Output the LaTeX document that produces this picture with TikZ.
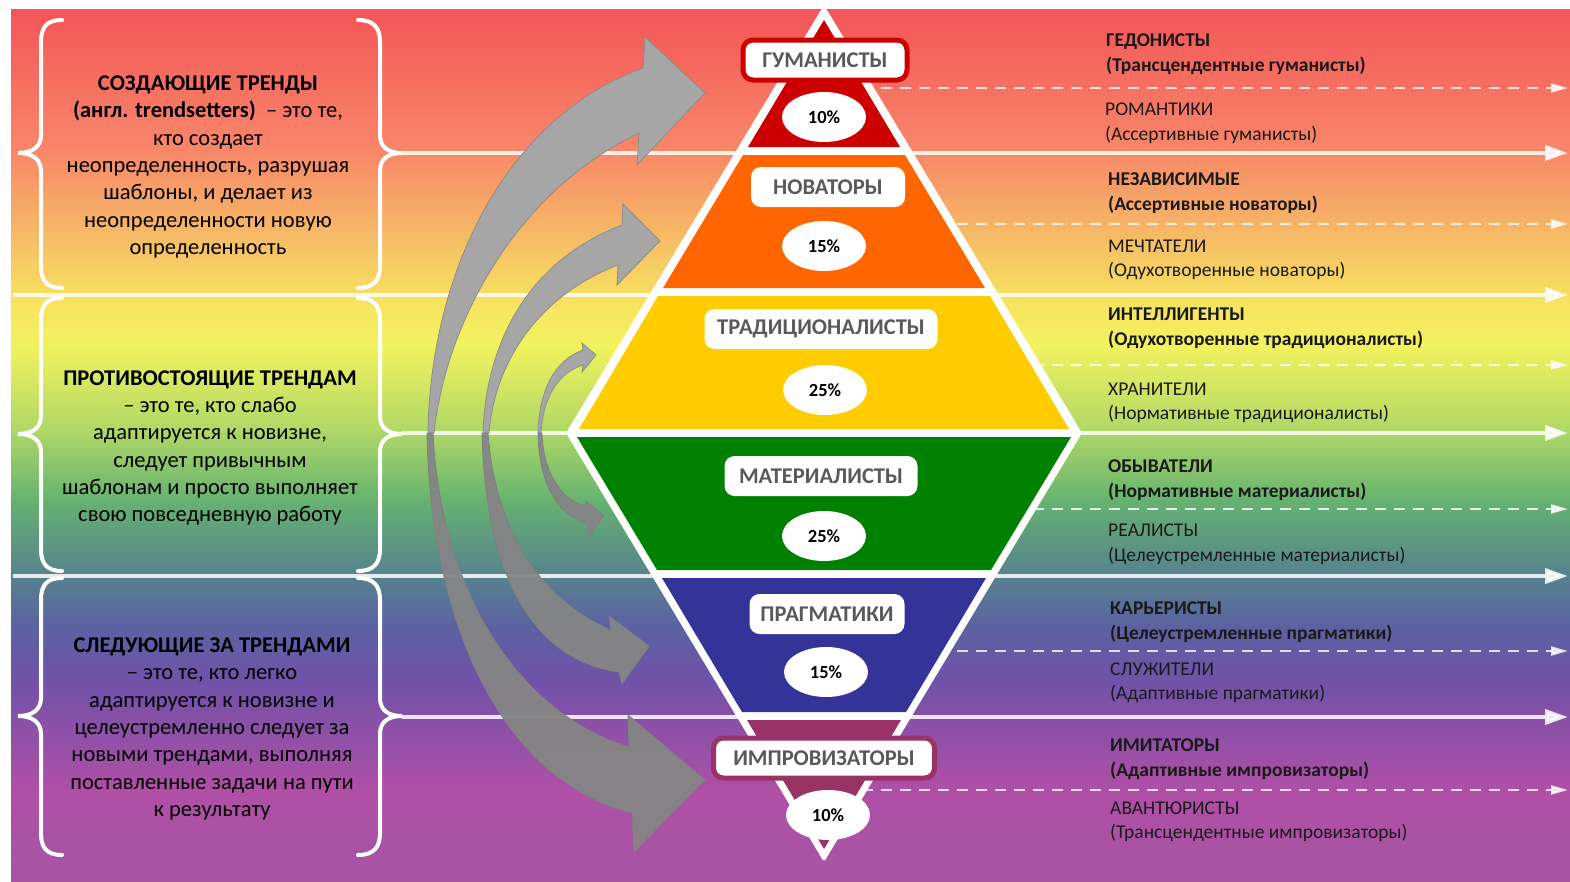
\documentclass[tikz,border=0pt]{standalone}
\usepackage{fontspec}
\setmainfont{Carlito}
\usetikzlibrary{shapes.geometric,arrows.meta}

\begin{document}
\begin{tikzpicture}[x=1pt,y=-1pt,
  lefttext/.style={align=center,text=black,inner sep=0pt,font=\fontsize{22.5}{27.3}\selectfont},
  righttext/.style={anchor=west,align=left,inner sep=0pt,text=black!90,font=\fontsize{19.5}{24.5}\selectfont},
  rightbold/.style={righttext,font=\fontsize{19.5}{24.5}\selectfont\bfseries},
  tier/.style={fill=white,rounded corners=10pt,minimum height=40pt,inner xsep=6pt,text=black!65,font=\fontsize{22.5}{26}\selectfont\bfseries},
  share/.style={ellipse,fill=white,minimum width=84pt,minimum height=50pt,inner sep=0pt,font=\fontsize{18.5}{22}\selectfont\bfseries},
  curly/.style={draw=white,line width=4pt,line cap=round},
  bandline/.style={draw=white,opacity=0.85,line width=4pt,-{Triangle[length=23pt,width=15pt]}},
  subline/.style={draw=white,opacity=0.8,line width=2.5pt,dash pattern=on 11pt off 8pt,-{Triangle[length=17pt,width=9pt]}},
  uparrow/.style={fill=black!35,draw=black!45,line width=0.8pt},
  downarrow/.style={fill=black!48,draw=black!50,line width=0.8pt,fill opacity=0.95}]
% Define colours
\definecolor{tierred}{HTML}{CC0000}
\definecolor{tierorange}{HTML}{FF6600}
\definecolor{tieryellow}{HTML}{FFCC00}
\definecolor{tiergreen}{HTML}{008000}
\definecolor{tierblue}{HTML}{333399}
\definecolor{tiermag}{HTML}{993366}
\definecolor{bgA}{HTML}{F35558}
\definecolor{bgB}{HTML}{F88769}
\definecolor{bgC}{HTML}{F6BE66}
\definecolor{bgD}{HTML}{F7E260}
\definecolor{bgE}{HTML}{F2F35E}
\definecolor{bgF}{HTML}{AFD866}
\definecolor{bgG}{HTML}{66B270}
\definecolor{bgH}{HTML}{57858C}
\definecolor{bgI}{HTML}{5B62A2}
\definecolor{bgJ}{HTML}{7052A8}
\definecolor{bgK}{HTML}{B04FA6}
\definecolor{bgL}{HTML}{A654A2}

\useasboundingbox[fill=white] (0,0) rectangle (1570,881);

% Rainbow background
\shade[top color=bgA,bottom color=bgB] (11,9) rectangle (1570,151);
\shade[top color=bgB,bottom color=bgC] (11,150) rectangle (1570,241);
\shade[top color=bgC,bottom color=bgD] (11,240) rectangle (1570,301);
\shade[top color=bgD,bottom color=bgE] (11,300) rectangle (1570,346);
\shade[top color=bgE,bottom color=bgF] (11,345) rectangle (1570,431);
\shade[top color=bgF,bottom color=bgG] (11,430) rectangle (1570,501);
\shade[top color=bgG,bottom color=bgH] (11,500) rectangle (1570,571);
\shade[top color=bgH,bottom color=bgI] (11,570) rectangle (1570,626);
\shade[top color=bgI,bottom color=bgJ] (11,625) rectangle (1570,681);
\shade[top color=bgJ,bottom color=bgK] (11,680) rectangle (1570,791);
\shade[top color=bgK,bottom color=bgL] (11,790) rectangle (1570,881);

% Level lines
\foreach \y/\x in {153/402,295/13,433/402,576/13,717/402}{
  \coordinate (l\y) at (\x,\y);
  \coordinate (r\y) at (1568,\y);
  \draw[bandline] (l\y) -- (r\y);
}
\foreach \y in {88,224,365,509,651,790}{
  \coordinate (m\y) at (824,\y);
  \coordinate (s\y) at (1568,\y);
  \draw[subline] (m\y) -- (s\y);
}

% Braces
\foreach \a/\b/\c in {20/153/288,298/434/571,578/716/855}{
  \draw[curly] (62,\a) .. controls (46,\a) and (41,\a+8) .. (41,\a+22) -- (41,\b-18)
    .. controls (41,\b-6) and (32,\b) .. (18,\b) .. controls (32,\b) and (41,\b+6) .. (41,\b+18)
    -- (41,\c-22) .. controls (41,\c-8) and (46,\c) .. (62,\c);
  \draw[curly] (358,\a) .. controls (374,\a) and (380,\a+8) .. (380,\a+22) -- (380,\b-18)
    .. controls (380,\b-6) and (388,\b) .. (402,\b) .. controls (388,\b) and (380,\b+6) .. (380,\b+18)
    -- (380,\c-22) .. controls (380,\c-8) and (374,\c) .. (358,\c);
}

% Left descriptions
\node[lefttext] (setters) at (208,167) {\textbf{СОЗДАЮЩИЕ ТРЕНДЫ}\\\textbf{(англ. trendsetters)}\ \ – это те,\\кто создает\\неопределенность, разрушая\\шаблоны, и делает из\\неопределенности новую\\определенность};
\node[lefttext] (resisters) at (210,448) {\textbf{ПРОТИВОСТОЯЩИЕ ТРЕНДАМ}\\– это те, кто слабо\\адаптируется к новизне,\\следует привычным\\шаблонам и просто выполняет\\свою повседневную работу};
\node[lefttext] (followers) at (212,729) {\textbf{СЛЕДУЮЩИЕ ЗА ТРЕНДАМИ}\\– это те, кто легко\\адаптируется к новизне и\\целеустремленно следует за\\новыми трендами, выполняя\\поставленные задачи на пути\\к результату};

% Right subtypes
\node[rightbold] (hedon) at (1106,54) {ГЕДОНИСТЫ\\(Трансцендентные гуманисты)};
\node[righttext] (roman) at (1105,123) {РОМАНТИКИ\\(Ассертивные гуманисты)};
\node[rightbold] (indep) at (1108,193) {НЕЗАВИСИМЫЕ\\(Ассертивные новаторы)};
\node[righttext] (dream) at (1108,260) {МЕЧТАТЕЛИ\\(Одухотворенные новаторы)};
\node[rightbold] (intel) at (1108,328) {ИНТЕЛЛИГЕНТЫ\\(Одухотворенные традиционалисты)};
\node[righttext] (keep) at (1108,403) {ХРАНИТЕЛИ\\(Нормативные традиционалисты)};
\node[rightbold] (philis) at (1108,480) {ОБЫВАТЕЛИ\\(Нормативные материалисты)};
\node[righttext] (real) at (1108,544) {РЕАЛИСТЫ\\(Целеустремленные материалисты)};
\node[rightbold] (career) at (1110,622) {КАРЬЕРИСТЫ\\(Целеустремленные прагматики)};
\node[righttext] (serv) at (1110,683) {СЛУЖИТЕЛИ\\(Адаптивные прагматики)};
\node[rightbold] (imit) at (1110,759) {ИМИТАТОРЫ\\(Адаптивные импровизаторы)};
\node[righttext] (adven) at (1110,822) {АВАНТЮРИСТЫ\\(Трансцендентные импровизаторы)};

% Pyramid
\fill[white,rounded corners=3pt] (824,5) -- (566,433) -- (824,862) -- (1082,433) -- cycle;
\fill[tierred] (824,20) -- (748,147) -- (900,147) -- cycle;
\fill[tierorange] (743,155) -- (905,155) -- (985,288) -- (663,288) -- cycle;
\fill[tieryellow] (658,296) -- (990,296) -- (1069,429) -- (579,429) -- cycle;
\fill[tiergreen] (577,437) -- (1071,437) -- (991,570) -- (657,570) -- cycle;
\fill[tierblue] (662,578) -- (986,578) -- (906,712) -- (742,712) -- cycle;
\fill[tiermag] (747,720) -- (901,720) -- (824,849) -- cycle;

\node[tier,draw=tierred,line width=5pt,minimum width=164pt] (human) at (825,60) {ГУМАНИСТЫ};
\node[tier,minimum width=154pt] (innov) at (828,187) {НОВАТОРЫ};
\node[tier,minimum width=233pt] (trad) at (821,329) {ТРАДИЦИОНАЛИСТЫ};
\node[tier,minimum width=193pt] (mater) at (821,476) {МАТЕРИАЛИСТЫ};
\node[tier,minimum width=155pt] (pragm) at (827,614) {ПРАГМАТИКИ};
\node[tier,draw=tiermag,line width=5pt,minimum width=221pt] (impro) at (824,758) {ИМПРОВИЗАТОРЫ};

\node[share] (p1) at (824,117) {10\%};
\node[share] (p2) at (824,246) {15\%};
\node[share] (p3) at (825,390) {25\%};
\node[share] (p4) at (824,536) {25\%};
\node[share] (p5) at (826,672) {15\%};
\node[share] (p6) at (828,815) {10\%};

% Curved arrows up
\draw[uparrow] (428,433) .. controls (430,280) and (500,120) .. (643,68) -- (645,37) -- (705,93)
  -- (637,165) -- (639,133) .. controls (510,195) and (445,330) .. (434,433) -- cycle;
\draw[uparrow] (483,433) .. controls (486,340) and (530,260) .. (622,225) -- (623,204) -- (660,241)
  -- (617,285) -- (618,265) .. controls (540,295) and (495,360) .. (489,433) -- cycle;
\draw[uparrow] (538,433) .. controls (539,390) and (555,360) .. (583,350) -- (582,343) -- (596,355)
  -- (582,372) -- (583,365) .. controls (560,372) and (543,395) .. (541,433) -- cycle;

% Curved arrows down
\draw[downarrow] (427,433) .. controls (430,620) and (500,780) .. (632,813) -- (634,852) -- (705,780)
  -- (628,715) -- (629,747) .. controls (510,710) and (440,580) .. (433,433) -- cycle;
\draw[downarrow] (482,433) .. controls (485,570) and (530,660) .. (619,672) -- (622,684) -- (649,646)
  -- (609,616) -- (611,630) .. controls (540,600) and (495,530) .. (488,433) -- cycle;
\draw[downarrow] (538,433) .. controls (539,480) and (555,515) .. (587,523) -- (587,537) -- (604,516)
  -- (586,501) -- (585,506) .. controls (560,500) and (543,470) .. (542,433) -- cycle;
\end{tikzpicture}
\end{document}
